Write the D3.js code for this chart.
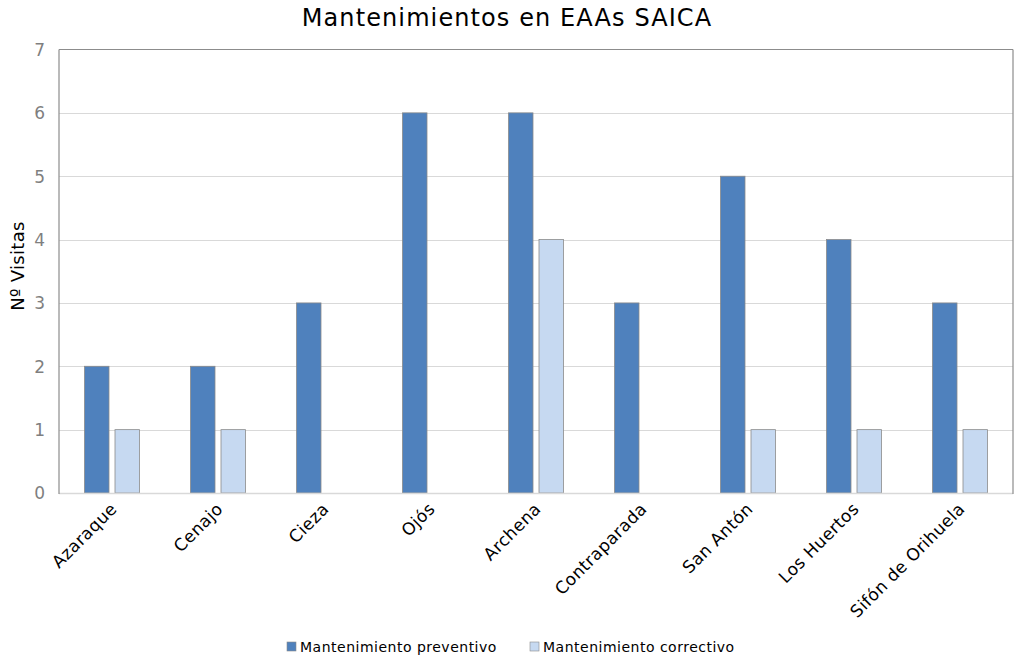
<!DOCTYPE html>
<html><head><meta charset="utf-8">
<script src="https://cdn.jsdelivr.net/npm/d3@7"></script>
<style>body{margin:0;background:#fff}svg{display:block;font-family:"DejaVu Sans",Verdana,sans-serif}</style>
</head><body><svg id="c" width="1014" height="660"></svg>
<script>
const categories = ["Azaraque","Cenajo","Cieza","Ojós","Archena","Contraparada","San Antón","Los Huertos","Sifón de Orihuela"];
const preventivo = [2,2,3,6,6,3,5,4,3];
const correctivo = [1,1,null,null,4,null,1,1,1];
const seriesNames = ["Mantenimiento preventivo","Mantenimiento correctivo"];
const yTicks = [0,1,2,3,4,5,6,7];
const colors = ["#4F81BD","#C6D9F1"];

const svg = d3.select("#c");
const m = {l:59, r:1013, t:49.5, b:493};
const x = d3.scaleBand().domain(categories).range([m.l, m.r]).paddingInner(0).paddingOuter(0);
const y = d3.scaleLinear().domain([0,7]).range([m.b, m.t]);

// gridlines
svg.append("g").selectAll("line").data(yTicks.filter(d=>d>0 && d<7)).join("line")
  .attr("x1", m.l).attr("x2", m.r).attr("y1", d=>Math.round(y(d))+0.5).attr("y2", d=>Math.round(y(d))+0.5)
  .attr("stroke", "#d9d9d9").attr("stroke-width", 1);

// bars
const bw = 24.5, gap = 6;
const series = [preventivo, correctivo];
series.forEach((vals, si) => {
  svg.append("g").selectAll("rect").data(categories.map((c,i)=>({c, v: vals[i]})).filter(d=>d.v!=null)).join("rect")
    .attr("x", d => x(d.c) + x.bandwidth()/2 + (si===0 ? -(bw + gap/2) : gap/2))
    .attr("width", bw)
    .attr("y", d => y(d.v))
    .attr("height", d => y(0) - y(d.v))
    .attr("fill", colors[si]).attr("stroke", "#8a8a8a").attr("stroke-width", 0.8);
});

// border
svg.append("line").attr("x1", m.l).attr("x2", m.r).attr("y1", m.b+0.5).attr("y2", m.b+0.5).attr("stroke","#d9d9d9").attr("stroke-width",1.5);
svg.append("line").attr("x1", m.l).attr("x2", m.r).attr("y1", m.t).attr("y2", m.t).attr("stroke","#8c8c8c").attr("stroke-width",1.2);
svg.append("line").attr("x1", m.l).attr("x2", m.l).attr("y1", m.t).attr("y2", m.b+1).attr("stroke","#8c8c8c").attr("stroke-width",1.2);
svg.append("line").attr("x1", m.r).attr("x2", m.r).attr("y1", m.t).attr("y2", m.b+1).attr("stroke","#8c8c8c").attr("stroke-width",1.2);

// y axis
const ya = d3.axisLeft(y).tickValues(yTicks).tickFormat(d3.format("d")).tickSize(0).tickPadding(0);
const yg = svg.append("g").attr("transform", `translate(${m.l-14},0)`).call(ya);
yg.select(".domain").remove();
yg.selectAll("text").attr("fill","#7f7f7f").style("font-size","17px").style("font-family","DejaVu Sans, Verdana, sans-serif").attr("dy","0.35em");

// x axis labels
const xa = d3.axisBottom(x).tickSize(0).tickPadding(0);
const xg = svg.append("g").attr("transform", `translate(0,${m.b})`).call(xa);
xg.select(".domain").remove();
xg.selectAll("text")
  .attr("fill","#000").style("font-size","17px").style("letter-spacing","0.4px").style("font-family","DejaVu Sans, Verdana, sans-serif")
  .attr("text-anchor","end").attr("y",0).attr("dy",0)
  .attr("transform","translate(6,17) rotate(-45)");

// title
svg.append("text").attr("x", 507).attr("y", 26).attr("text-anchor","middle")
  .style("font-size","24px").style("letter-spacing","1.1px").attr("fill","#000").text("Mantenimientos en EAAs SAICA");

// y title
svg.append("text").attr("transform","translate(24,266) rotate(-90)").attr("text-anchor","middle")
  .style("font-size","18px").style("letter-spacing","0.3px").attr("fill","#000").text("Nº Visitas");

// legend
const lg = svg.append("g");
const lx = [287, 530];
seriesNames.forEach((n,i)=>{
  lg.append("rect").attr("x", lx[i]).attr("y", 642).attr("width", 9).attr("height", 9)
    .attr("fill", colors[i]).attr("stroke","#8a8a8a").attr("stroke-width",0.6);
  lg.append("text").attr("x", lx[i]+13).attr("y", 652).style("font-size","14px").style("letter-spacing","0.5px").attr("fill","#000").text(n);
});
</script></body></html>
